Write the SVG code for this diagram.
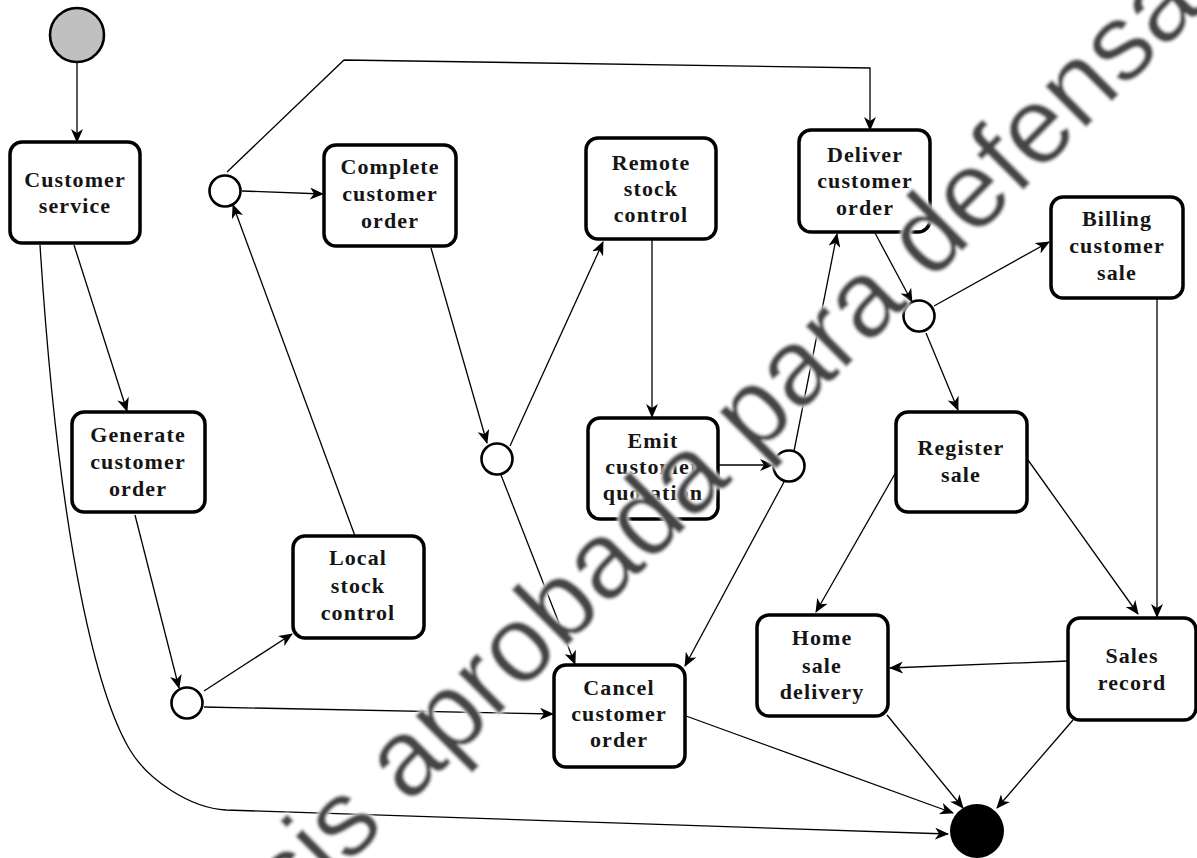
<svg xmlns="http://www.w3.org/2000/svg" width="1197" height="858" viewBox="0 0 1197 858">
  <style>
    .box { fill: #ffffff; stroke: #000000; stroke-width: 3.5; }
    .junction { fill: #ffffff; stroke: #000000; stroke-width: 2.6; }
    .lbl { font-family: "Liberation Serif", "Times New Roman", serif; font-weight: bold; font-size: 22px; letter-spacing: 1.1px; fill: #151515; text-anchor: middle; }
    .edge { fill: none; stroke: #000000; stroke-width: 1.3; }
    .arrow { marker-end: url(#head); }
    .mark { font-family: "Liberation Sans", Arial, sans-serif; font-size: 109px; fill: #454545; stroke: #ffffff; stroke-width: 3; paint-order: stroke; }
  </style>
  <defs>
    <marker id="head" viewBox="0 0 14 12" refX="13" refY="6" markerWidth="14" markerHeight="12" markerUnits="userSpaceOnUse" orient="auto">
      <path d="M0,0 L14,6 L0,12 L4,6 Z" fill="#000000"/>
    </marker>
    <filter id="soft" x="-5%" y="-5%" width="110%" height="110%">
      <feGaussianBlur stdDeviation="1.4"/>
    </filter>
  </defs>

  <rect width="1197" height="858" fill="#ffffff"/>

  <!-- connectors -->
  <g id="connectors">
    <line class="edge arrow" x1="77" y1="62" x2="77" y2="142"/>
    <line class="edge arrow" x1="74" y1="245" x2="127" y2="411"/>
    <path class="edge arrow" d="M40,245 C60,560 100,700 130,750 C148,780 190,808 226,810 L948,834"/>
    <line class="edge arrow" x1="135" y1="515" x2="179" y2="688"/>
    <line class="edge arrow" x1="204" y1="691" x2="292" y2="634"/>
    <line class="edge arrow" x1="204" y1="707" x2="553" y2="714"/>
    <line class="edge arrow" x1="355" y1="536" x2="233" y2="205"/>
    <line class="edge arrow" x1="242" y1="191" x2="323" y2="194"/>
    <polyline class="edge arrow" points="227,172 344,60 870,68 870,130"/>
    <line class="edge arrow" x1="431" y1="248" x2="487" y2="443"/>
    <line class="edge arrow" x1="510" y1="446" x2="603" y2="242"/>
    <line class="edge arrow" x1="501" y1="475" x2="575" y2="664"/>
    <line class="edge arrow" x1="652" y1="240" x2="652" y2="417"/>
    <line class="edge arrow" x1="719" y1="465" x2="773" y2="465"/>
    <line class="edge arrow" x1="794" y1="451" x2="837" y2="234"/>
    <line class="edge arrow" x1="784" y1="482" x2="685" y2="666"/>
    <line class="edge arrow" x1="875" y1="233" x2="912" y2="302"/>
    <line class="edge arrow" x1="934" y1="306" x2="1049" y2="242"/>
    <line class="edge arrow" x1="926" y1="333" x2="958" y2="410"/>
    <line class="edge arrow" x1="1157" y1="298" x2="1157" y2="617"/>
    <line class="edge arrow" x1="1028" y1="460" x2="1138" y2="614"/>
    <line class="edge arrow" x1="896" y1="472" x2="816" y2="612"/>
    <line class="edge arrow" x1="1068" y1="661" x2="890" y2="668"/>
    <line class="edge arrow" x1="686" y1="716" x2="953" y2="813"/>
    <line class="edge arrow" x1="887" y1="715" x2="963" y2="808"/>
    <line class="edge arrow" x1="1073" y1="720" x2="997" y2="808"/>
  </g>

  <!-- start and end -->
  <g id="start"><circle cx="77" cy="35" r="27" fill="#c0c0c0" stroke="#000000" stroke-width="2.6"/></g>
  <g id="end"><circle cx="977" cy="831" r="27" fill="#000000"/></g>

  <!-- junction points -->
  <g id="junction-a"><circle class="junction" cx="225" cy="191" r="15.5"/></g>
  <g id="junction-b"><circle class="junction" cx="497" cy="459" r="15.5"/></g>
  <g id="junction-c"><circle class="junction" cx="789" cy="466" r="15.5"/></g>
  <g id="junction-d"><circle class="junction" cx="919" cy="316" r="15.5"/></g>
  <g id="junction-e"><circle class="junction" cx="187" cy="703" r="15.5"/></g>

  <!-- activities -->
  <g id="customer-service">
    <rect class="box" x="10" y="142" width="130" height="101" rx="12"/>
    <text class="lbl" x="75" y="187">Customer</text>
    <text class="lbl" x="75" y="213">service</text>
  </g>
  <g id="generate-customer-order">
    <rect class="box" x="72" y="412" width="133" height="100" rx="12"/>
    <text class="lbl" x="138" y="442">Generate</text>
    <text class="lbl" x="138" y="469">customer</text>
    <text class="lbl" x="138" y="496">order</text>
  </g>
  <g id="complete-customer-order">
    <rect class="box" x="324" y="145" width="132" height="101" rx="12"/>
    <text class="lbl" x="390" y="174">Complete</text>
    <text class="lbl" x="390" y="201">customer</text>
    <text class="lbl" x="390" y="228">order</text>
  </g>
  <g id="remote-stock-control">
    <rect class="box" x="586" y="138" width="130" height="101" rx="12"/>
    <text class="lbl" x="651" y="170">Remote</text>
    <text class="lbl" x="651" y="196">stock</text>
    <text class="lbl" x="651" y="222">control</text>
  </g>
  <g id="deliver-customer-order">
    <rect class="box" x="799" y="130" width="131" height="102" rx="12"/>
    <text class="lbl" x="865" y="162">Deliver</text>
    <text class="lbl" x="865" y="188">customer</text>
    <text class="lbl" x="865" y="215">order</text>
  </g>
  <g id="billing-customer-sale">
    <rect class="box" x="1051" y="197" width="132" height="101" rx="12"/>
    <text class="lbl" x="1117" y="226">Billing</text>
    <text class="lbl" x="1117" y="253">customer</text>
    <text class="lbl" x="1117" y="280">sale</text>
  </g>
  <g id="emit-customer-quotation">
    <rect class="box" x="588" y="418" width="130" height="101" rx="12"/>
    <text class="lbl" x="653" y="448">Emit</text>
    <text class="lbl" x="653" y="474">customer</text>
    <text class="lbl" x="653" y="500">quotation</text>
  </g>
  <g id="register-sale">
    <rect class="box" x="896" y="412" width="131" height="100" rx="12"/>
    <text class="lbl" x="961" y="455">Register</text>
    <text class="lbl" x="961" y="482">sale</text>
  </g>
  <g id="local-stock-control">
    <rect class="box" x="293" y="536" width="131" height="102" rx="12"/>
    <text class="lbl" x="358" y="565">Local</text>
    <text class="lbl" x="358" y="593">stock</text>
    <text class="lbl" x="358" y="620">control</text>
  </g>
  <g id="cancel-customer-order">
    <rect class="box" x="554" y="665" width="131" height="102" rx="12"/>
    <text class="lbl" x="619" y="695">Cancel</text>
    <text class="lbl" x="619" y="721">customer</text>
    <text class="lbl" x="619" y="747">order</text>
  </g>
  <g id="home-sale-delivery">
    <rect class="box" x="757" y="615" width="131" height="101" rx="12"/>
    <text class="lbl" x="822" y="645">Home</text>
    <text class="lbl" x="822" y="673">sale</text>
    <text class="lbl" x="822" y="699">delivery</text>
  </g>
  <g id="sales-record">
    <rect class="box" x="1068" y="618" width="128" height="102" rx="12"/>
    <text class="lbl" x="1132" y="663">Sales</text>
    <text class="lbl" x="1132" y="690">record</text>
  </g>

  <!-- diagonal stamp over the sheet -->
  <g id="stamp" filter="url(#soft)">
    <text class="mark" transform="translate(211,1002) rotate(-45)" x="0" y="0">Tesis aprobada para defensa</text>
  </g>
</svg>
